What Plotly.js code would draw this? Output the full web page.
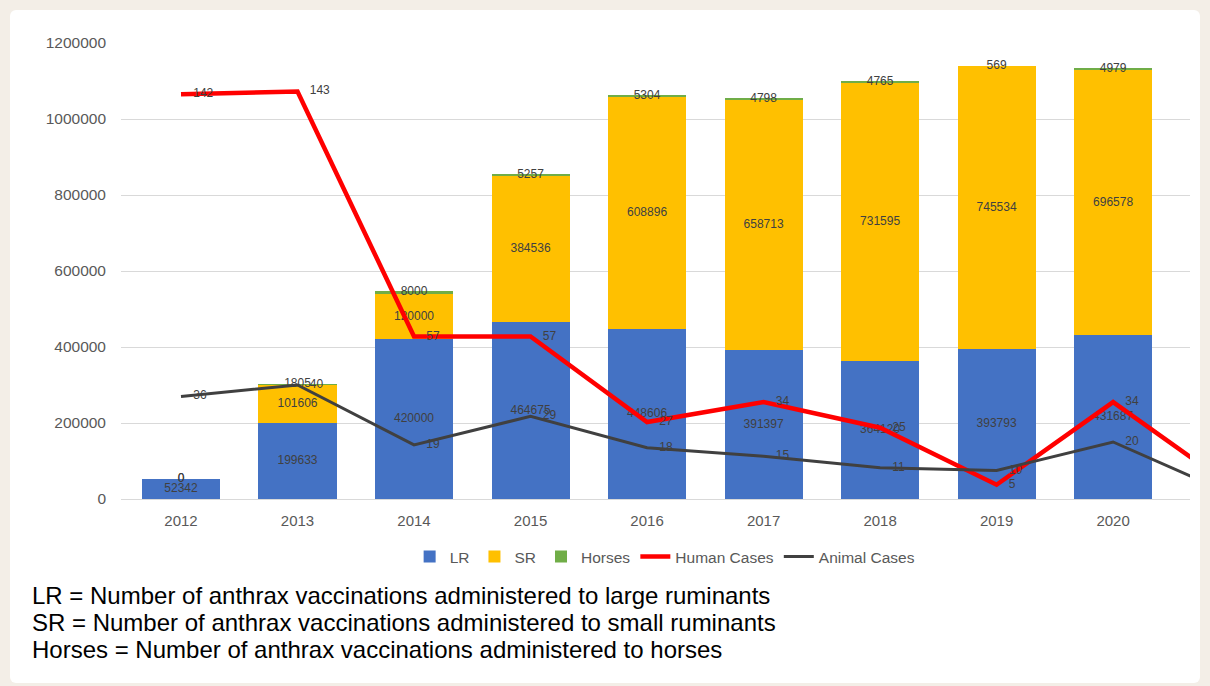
<!DOCTYPE html>
<html>
<head>
<meta charset="utf-8">
<script src="https://cdn.plot.ly/plotly-3.0.1.min.js"></script>
<style>
html,body{margin:0;padding:0;background:#f3eee7;width:1210px;height:686px;overflow:hidden;}
#frame{position:absolute;left:10px;top:10px;width:1190px;height:673px;background:#fff;border-radius:6px;}
#chart{width:1190px;height:673px;}
</style>
</head>
<body>
<div id="frame"><div id="chart"></div></div>
<script>
// Data
const years = ["2012","2013","2014","2015","2016","2017","2018","2019","2020"];
const LR = [52342,199633,420000,464675,448606,391397,364120,393793,431687];
const SR = [0,101606,120000,384536,608896,658713,731595,745534,696578];
const Horses = [0,1805,8000,5257,5304,4798,4765,569,4979];
// Line series include a 2021 point that runs off the right edge of the plot
const humanCases = [142,143,57,57,27,34,25,5,34,5];
const animalCases = [36,40,19,29,18,15,11,10,20,2];
const yTicks = [0,200000,400000,600000,800000,1000000,1200000];
const notes = [
  "LR = Number of anthrax vaccinations administered to large ruminants",
  "SR = Number of anthrax vaccinations administered to small ruminants",
  "Horses = Number of anthrax vaccinations administered to horses"
];

const idx = years.map((_, i) => i);
const idxLine = humanCases.map((_, i) => i);
const n = years.length;
const labelFont = {family: "Liberation Sans, Arial, sans-serif", size: 12, color: "#404040"};

function barLabels(yvals, txt) {
  return {type:"scatter", mode:"text", x:idx, y:yvals, text:txt.map(String),
          textfont:labelFont, showlegend:false, hoverinfo:"skip", cliponaxis:false};
}
function lineLabels(vals) {
  return {type:"scatter", mode:"markers+text", x:idx, y:vals.slice(0, n), yaxis:"y2",
          text:vals.slice(0, n).map(String), textposition:"middle right",
          marker:{size:18, opacity:0}, textfont:labelFont, showlegend:false,
          hoverinfo:"skip", cliponaxis:false};
}

const traces = [
  {type:"bar", name:"LR", x:idx, y:LR, marker:{color:"#4472C4"}, hoverinfo:"skip"},
  {type:"bar", name:"SR", x:idx, y:SR, marker:{color:"#FFC000"}, hoverinfo:"skip"},
  {type:"bar", name:"Horses", x:idx, y:Horses, marker:{color:"#70AD47"}, hoverinfo:"skip"},
  {type:"scatter", mode:"lines", name:"Human Cases", x:idxLine, y:humanCases, yaxis:"y2",
   line:{color:"#FF0000", width:4.5}, hoverinfo:"skip"},
  {type:"scatter", mode:"lines", name:"Animal Cases", x:idxLine, y:animalCases, yaxis:"y2",
   line:{color:"#404040", width:3}, hoverinfo:"skip"},
  barLabels(LR.map(v => v/2), LR),
  barLabels(SR.map((v,i) => LR[i] + v/2), SR),
  barLabels(Horses.map((v,i) => LR[i] + SR[i] + v/2), Horses),
  lineLabels(humanCases),
  lineLabels(animalCases)
];

const noteY = [-0.2127, -0.2719, -0.3311];
const layout = {
  width:1190, height:673,
  margin:{l:111, r:10, t:33, b:184},
  paper_bgcolor:"rgba(0,0,0,0)", plot_bgcolor:"#ffffff",
  barmode:"stack", bargap:0.33,
  showlegend:true, hovermode:false,
  font:{family:"Liberation Sans, Arial, sans-serif", color:"#595959"},
  xaxis:{range:[-0.515, 8.66], tickmode:"array", tickvals:idx, ticktext:years,
         showgrid:false, zeroline:false, showline:false, ticks:"",
         tickfont:{size:15, color:"#595959"}, ticklabelstandoff:11, fixedrange:true},
  yaxis:{range:[0,1200000], tickmode:"array", tickvals:yTicks, ticktext:yTicks.map(String),
         showgrid:true, gridcolor:"#d9d9d9", gridwidth:1, zeroline:true, zerolinecolor:"#d9d9d9",
         showline:false, ticks:"", tickfont:{size:15.5, color:"#595959"}, ticklabelstandoff:14, fixedrange:true},
  yaxis2:{range:[0,160], overlaying:"y", side:"right", visible:false, fixedrange:true},
  legend:{orientation:"h", x:0.27, xanchor:"left", y:-0.127, yanchor:"middle",
          font:{size:15.5, color:"#595959"}, traceorder:"normal", itemwidth:30, bgcolor:"rgba(0,0,0,0)"},
  annotations: notes.map((t, i) => ({
    xref:"paper", yref:"paper", x:-0.0851, y:noteY[i], xanchor:"left", yanchor:"middle", align:"left",
    showarrow:false, text:t,
    font:{family:"Liberation Sans, Arial, sans-serif", size:24, color:"#000000"}
  }))
};

Plotly.newPlot("chart", traces, layout, {displayModeBar:false, staticPlot:true});
</script>
</body>
</html>
